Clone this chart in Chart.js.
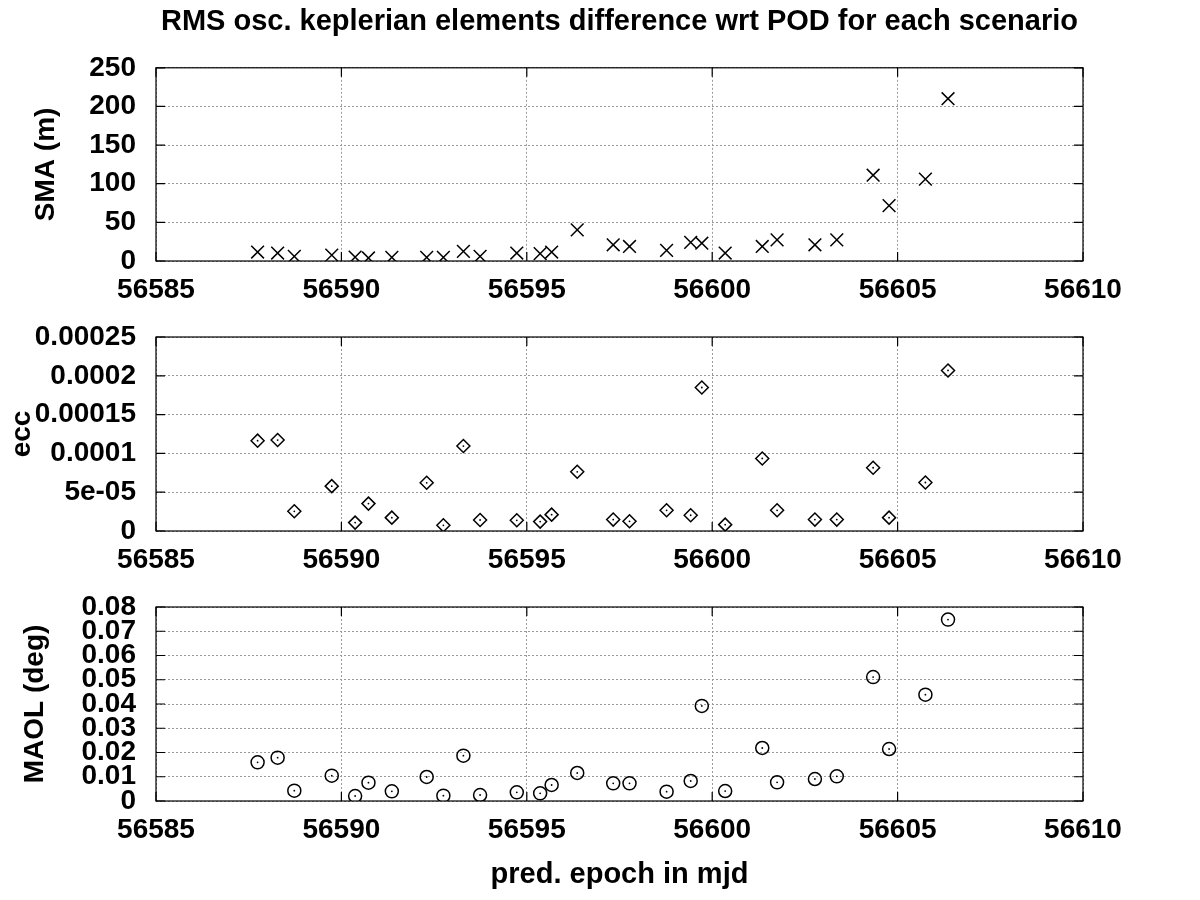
<!DOCTYPE html>
<html>
<head>
<meta charset="utf-8">
<script src="https://cdn.jsdelivr.net/npm/chart.js@4"></script>
<style>
  body { margin: 0; background: #fff; }
  #wrap { position: relative; width: 1200px; height: 900px; }
  .panel { position: absolute; left: 0; width: 1200px; }
</style>
</head>
<body>
<div id="wrap">
  <div class="panel" style="top:0;height:300px"><canvas id="smaChart"></canvas></div>
  <div class="panel" style="top:300px;height:270px"><canvas id="eccChart"></canvas></div>
  <div class="panel" style="top:570px;height:330px"><canvas id="maolChart"></canvas></div>
</div>
<script>
// data (one value per scenario)
const epochs = [56587.74, 56588.28, 56588.73, 56589.74, 56590.37, 56590.73, 56591.36, 56592.30, 56592.75, 56593.29,
  56593.74, 56594.73, 56595.36, 56595.67, 56596.36, 56597.33, 56597.77, 56598.77, 56599.42, 56599.72,
  56600.35, 56601.35, 56601.75, 56602.77, 56603.36, 56604.34, 56604.77, 56605.75, 56606.36];
const sma = [11.6, 10.3, 6, 7.7, 5, 3.9, 4.7, 4.7, 4.7, 12.4,
  6, 10.3, 9.5, 11.6, 40.3, 21, 18.8, 13.7, 24, 23,
  10.3, 18.8, 27.4, 21, 27.4, 111, 71.7, 106, 210];
const ecc = [1.164e-4, 1.172e-4, 2.54e-5, 5.78e-5, 1.08e-5, 3.53e-5, 1.72e-5, 6.21e-5, 7.3e-6, 1.095e-4,
  1.42e-5, 1.38e-5, 1.21e-5, 2.11e-5, 7.63e-5, 1.47e-5, 1.25e-5, 2.67e-5, 2.03e-5, 1.849e-4,
  8.2e-6, 9.35e-5, 2.67e-5, 1.47e-5, 1.47e-5, 8.15e-5, 1.72e-5, 6.25e-5, 2.069e-4];
const maol = [0.01595, 0.01787, 0.00426, 0.01045, 0.00206, 0.00756, 0.00399, 0.0099, 0.0022, 0.0187,
  0.00247, 0.00357, 0.00316, 0.0066, 0.01155, 0.00729, 0.00729, 0.00385, 0.00825, 0.0392,
  0.0041, 0.02186, 0.0077, 0.00907, 0.01017, 0.0511, 0.02144, 0.04385, 0.0748];

// tick labels
const smaTicks = ['0', '50', '100', '150', '200', '250'];
const eccTicks = ['0', '5e-05', '0.0001', '0.00015', '0.0002', '0.00025'];
const maolTicks = ['0', '0.01', '0.02', '0.03', '0.04', '0.05', '0.06', '0.07', '0.08'];

const FONT = "'Liberation Sans', Arial, Helvetica, sans-serif";

// gnuplot style frame: full border + inward tick marks
const frame = {
  id: 'frame',
  beforeDatasetsDraw(chart) {
    const {ctx, chartArea: a, scales: {x, y}} = chart;
    ctx.save();
    ctx.strokeStyle = '#000';
    ctx.lineWidth = 1.2;
    ctx.beginPath();
    x.ticks.forEach(t => {
      const px = x.getPixelForValue(t.value);
      ctx.moveTo(px, a.top); ctx.lineTo(px, a.top + 9);
      ctx.moveTo(px, a.bottom); ctx.lineTo(px, a.bottom - 9);
    });
    y.ticks.forEach(t => {
      const py = y.getPixelForValue(t.value);
      ctx.moveTo(a.left, py); ctx.lineTo(a.left + 9, py);
      ctx.moveTo(a.right, py); ctx.lineTo(a.right - 9, py);
    });
    ctx.stroke();
    ctx.strokeRect(a.left, a.top, a.right - a.left, a.bottom - a.top);
    ctx.restore();
  }
};

function points(ys) {
  return epochs.map((x, i) => ({x: x, y: ys[i]}));
}

function makeChart(id, opts) {
  const datasets = [{
    data: points(opts.values),
    pointStyle: opts.style,
    pointRadius: opts.radius,
    borderColor: '#000',
    backgroundColor: 'rgba(0,0,0,0)',
    borderWidth: 1.5
  }];
  if (opts.dot) {
    // small centre dot like the gnuplot symbols
    datasets.push({
      data: points(opts.values),
      pointStyle: 'circle',
      pointRadius: 0.9,
      borderWidth: 0,
      backgroundColor: '#000'
    });
  }
  return new Chart(document.getElementById(id), {
    type: 'scatter',
    data: {datasets: datasets},
    options: {
      responsive: true,
      maintainAspectRatio: false,
      animation: false,
      events: [],
      layout: {padding: {top: opts.padTop, right: 117, bottom: 0, left: 0}},
      plugins: {
        legend: {display: false},
        tooltip: {enabled: false},
        title: {
          display: !!opts.title,
          text: opts.title,
          fullSize: false,
          color: '#000',
          font: {family: FONT, size: 29, weight: 'bold'},
          padding: {top: 5, bottom: 28}
        }
      },
      scales: {
        x: {
          type: 'linear',
          min: 56585,
          max: 56610,
          afterFit: s => { s.height = opts.xHeight; },
          ticks: {
            stepSize: 5,
            autoSkip: false,
            color: '#000',
            padding: 12,
            font: {family: FONT, size: 28, weight: 'bold'},
            callback: v => String(v)
          },
          grid: {color: '#9a9a9a', lineWidth: 1, drawTicks: false},
          border: {display: false, dash: [2, 2]},
          title: {
            display: !!opts.xTitle,
            text: opts.xTitle,
            color: '#000',
            font: {family: FONT, size: 29, weight: 'bold'},
            padding: {top: 0, bottom: 8}
          }
        },
        y: {
          min: 0,
          max: opts.max,
          afterFit: s => { s.width = 156; },
          ticks: {
            stepSize: opts.step,
            autoSkip: false,
            color: '#000',
            padding: 20,
            font: {family: FONT, size: 28, weight: 'bold'},
            callback: (v, i) => opts.labels[i]
          },
          grid: {color: '#9a9a9a', lineWidth: 1, drawTicks: false},
          border: {display: false, dash: [2, 2]},
          title: {
            display: true,
            text: opts.yTitle,
            color: '#000',
            font: {family: FONT, size: 28, weight: 'bold'},
            padding: {top: opts.yTitlePad, bottom: 0}
          }
        }
      }
    },
    plugins: [frame]
  });
}

makeChart('smaChart', {
  values: sma, style: 'crossRot', radius: 9, dot: false,
  max: 250, step: 50, labels: smaTicks, yTitle: 'SMA (m)', yTitlePad: 29,
  title: 'RMS osc. keplerian elements difference wrt POD for each scenario',
  padTop: 0, xHeight: 39
});
makeChart('eccChart', {
  values: ecc, style: 'rectRot', radius: 6.5, dot: true,
  max: 0.00025, step: 0.00005, labels: eccTicks, yTitle: 'ecc', yTitlePad: 5,
  padTop: 37, xHeight: 39
});
makeChart('maolChart', {
  values: maol, style: 'circle', radius: 6.5, dot: true,
  max: 0.08, step: 0.01, labels: maolTicks, yTitle: 'MAOL (deg)', yTitlePad: 18,
  padTop: 37, xHeight: 99, xTitle: 'pred. epoch in mjd'
});
</script>
</body>
</html>
